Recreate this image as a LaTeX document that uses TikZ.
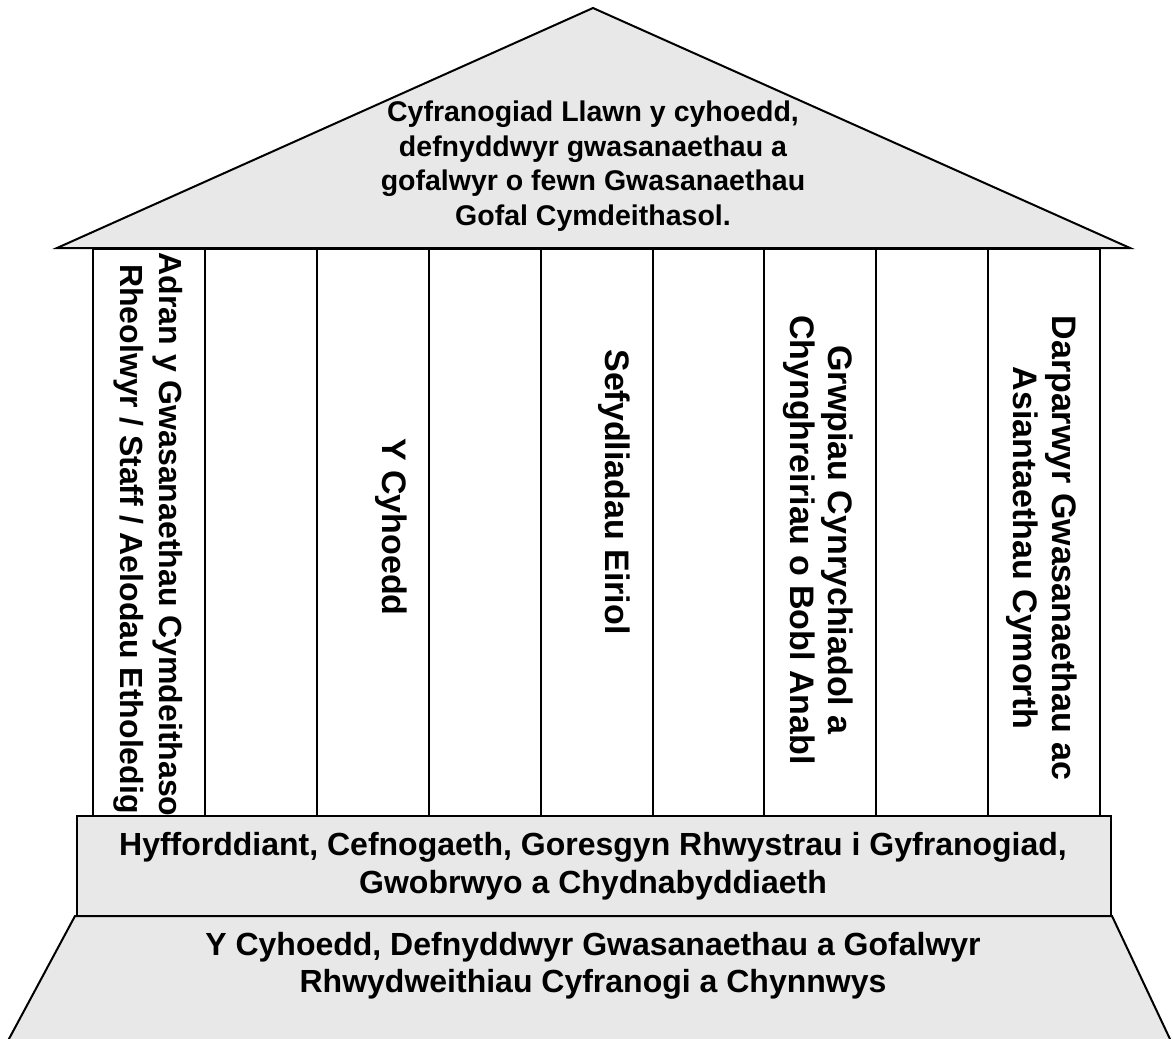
\documentclass[tikz,border=0pt]{standalone}
\usepackage{fontspec}
\setmainfont{Liberation Sans}
\definecolor{roofgrey}{HTML}{E8E8E8}
\begin{document}
\begin{tikzpicture}[x=1pt,y=-1pt,
  outline/.style={draw=black,line width=2pt,line join=miter},
  greypart/.style={outline,fill=roofgrey},
  colbox/.style={outline,fill=white,minimum width=111.9pt,minimum height=567pt,inner sep=0pt,anchor=north west},
  coltext/.style={rotate=-90,align=center,inner sep=0pt,font=\bfseries\fontsize{34}{38.5}\selectfont},
  bandtext/.style={align=center,inner sep=0pt,font=\bfseries\fontsize{32}{37.5}\selectfont},
  rooftext/.style={align=center,inner sep=0pt,font=\bfseries\fontsize{28.5}{34.5}\selectfont}]
\useasboundingbox (0,0) rectangle (1173,1039);
\clip (0,0) rectangle (1173,1039);
% base trapezoid
\coordinate (bTL) at (75,916);
\coordinate (bTR) at (1112,916);
\coordinate (bBL) at (5.7,1045);
\coordinate (bBR) at (1172.8,1045);
\draw[greypart] (bBL) -- (bTL) -- (bTR) -- (bBR) -- cycle;
% roof
\coordinate (rL) at (57,248);
\coordinate (rA) at (593,8);
\coordinate (rR) at (1130,248);
\draw[greypart] (rL) -- (rA) -- (rR) -- cycle;
% columns
\foreach \i in {0,...,8}{
  \node[colbox] (col\i) at ({92+\i*111.9},248) {};
}
% column texts
\node[coltext,font=\bfseries\fontsize{32}{38.5}\selectfont] (t1) at (148,539) {Adran y Gwasanaethau Cymdeithasol\\Rheolwyr / Staff / Aelodau Etholedig};
\node[coltext] (t3) at (391,527) {Y Cyhoedd};
\node[coltext] (t5) at (614,492) {Sefydliadau Eiriol};
\node[coltext] (t7) at (818,540) {Grwpiau Cynrychiadol a\\Chynghreiriau o Bobl Anabl};
\node[coltext] (t9) at (1042,548) {Darparwyr Gwasanaethau ac\\Asiantaethau Cymorth};
% plinth
\draw[greypart] (77,816) rectangle (1111,916);
\node[bandtext] (plinthtxt) at (593,866) {Hyfforddiant, Cefnogaeth, Goresgyn Rhwystrau i Gyfranogiad,\\Gwobrwyo a Chydnabyddiaeth};
\node[bandtext] (basetxt) at (593,966) {Y Cyhoedd, Defnyddwyr Gwasanaethau a Gofalwyr\\Rhwydweithiau Cyfranogi a Chynnwys};
\node[rooftext] (rooftxt) at (593,166) {Cyfranogiad Llawn y cyhoedd,\\defnyddwyr gwasanaethau a\\gofalwyr o fewn Gwasanaethau\\Gofal Cymdeithasol.};
\end{tikzpicture}
\end{document}
